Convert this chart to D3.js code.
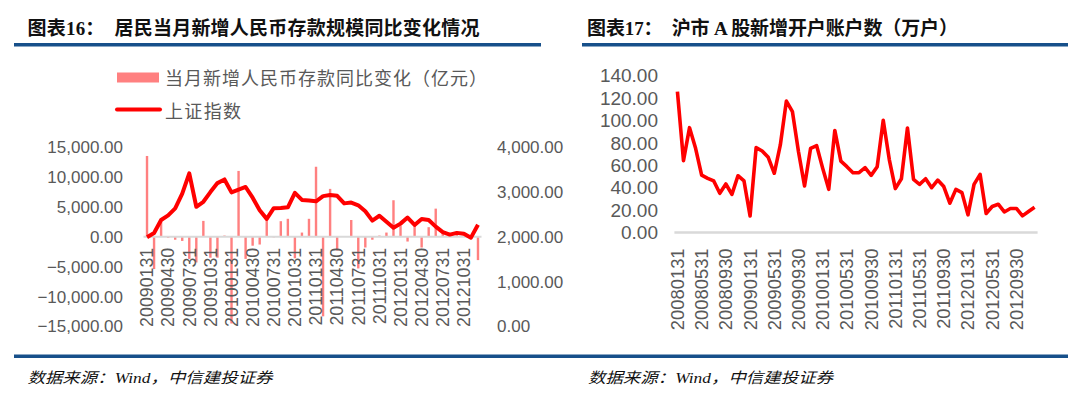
<!DOCTYPE html>
<html><head><meta charset="utf-8">
<script src="https://cdn.jsdelivr.net/npm/d3@7/dist/d3.min.js"></script>
<style>
html,body{margin:0;padding:0;background:#fff;}
svg{display:block;}
.tk text{fill:#595959;font-family:"Liberation Sans",Arial,sans-serif;}
</style></head>
<body>
<svg id="c" width="1080" height="399"></svg>
<script>
// ---------- data ----------
const depositDates = [
"20090131","20090228","20090331","20090430","20090531","20090630","20090731","20090831","20090930","20091031","20091130","20091231",
"20100131","20100228","20100331","20100430","20100531","20100630","20100731","20100831","20100930","20101031","20101130","20101231",
"20110131","20110228","20110331","20110430","20110531","20110630","20110731","20110831","20110930","20111031","20111130","20111231",
"20120131","20120229","20120331","20120430","20120531","20120630","20120731","20120831","20120930","20121031","20121130","20121231"];
const depositTickLabels = ["20090131","20090430","20090731","20091031","20100131","20100430","20100731","20101031",
"20110131","20110430","20110731","20111031","20120131","20120430","20120731","20121031"];
// 当月新增人民币存款同比变化（亿元）
const depositChange = [13500,-5400,2600,-200,-500,-700,-3700,-4300,2650,-3500,-3500,200,
-14500,11000,-3700,-1500,-1300,2700,-100,2600,3000,-3600,700,3000,
11700,-13300,8000,-2300,0,2800,-5300,-1800,-500,200,700,6100,
1900,-800,1900,-1800,1600,4700,500,200,900,200,0,-3900];
// 上证指数
const shIndex = [1990.66,2082.85,2373.21,2477.57,2632.93,2959.36,3412.06,2667.74,2779.43,2995.85,3195.30,3277.14,
2989.29,3051.94,3109.11,2870.61,2592.15,2398.37,2637.50,2638.80,2655.66,2978.84,2820.18,2808.08,
2790.69,2905.05,2928.11,2911.51,2743.47,2762.08,2701.73,2567.34,2359.22,2468.25,2333.41,2199.42,
2292.61,2428.49,2262.79,2396.32,2372.23,2225.43,2103.63,2047.52,2086.17,2068.88,1980.12,2269.13];
const depositTicks = [-15000,-10000,-5000,0,5000,10000,15000];
const indexTicks = [0,1000,2000,3000,4000];

const accountDates = [
"20080131","20080229","20080331","20080430","20080531","20080630","20080731","20080831","20080930","20081031","20081130","20081231",
"20090131","20090228","20090331","20090430","20090531","20090630","20090731","20090831","20090930","20091031","20091130","20091231",
"20100131","20100228","20100331","20100430","20100531","20100630","20100731","20100831","20100930","20101031","20101130","20101231",
"20110131","20110228","20110331","20110430","20110531","20110630","20110731","20110831","20110930","20111031","20111130","20111231",
"20120131","20120229","20120331","20120430","20120531","20120630","20120731","20120831","20120930","20121031","20121130","20121231"];
const accountTickLabels = ["20080131","20080531","20080930","20090131","20090531","20090930","20100131","20100531",
"20100930","20110131","20110531","20110930","20120131","20120531","20120930"];
// 沪市A股新增开户账户数（万户）
const newAccounts = [125.9,64.2,93.7,75.2,51.3,48.4,46.0,35.0,43.3,34.0,50.7,46.0,
14.7,75.8,72.8,67.2,52.9,78.2,117.5,108.0,72.2,41.5,75.2,77.6,
57.3,38.5,91.2,63.8,58.8,53.4,53.4,57.9,51.0,58.8,100.3,65.2,
39.2,48.0,93.4,47.4,43.0,48.0,40.0,46.8,41.0,26.1,38.5,35.6,
15.7,43.0,51.9,16.9,23.2,25.2,18.3,21.4,21.4,14.8,18.7,22.5];
const accountTicks = [0,20,40,60,80,100,120,140];

const titles = ["图表16：  居民当月新增人民币存款规模同比变化情况","图表17：  沪市 A 股新增开户账户数（万户）"];
const legendLabels = ["当月新增人民币存款同比变化（亿元）","上证指数"];
const sourceText = "数据来源：Wind，中信建投证券";

// ---------- drawing ----------
const svg = d3.select("#c");
const BLUE = "#17508A", GRID = "#D9D9D9", RED = "#FF0000", PINK = "#FF8080";
const titleFont = '"Liberation Serif","Noto Sans CJK SC",serif';
const cjk = '"Noto Sans CJK SC",sans-serif';

// titles
svg.append("text").attr("x",27.5).attr("y",35).attr("font-family",titleFont).attr("font-weight","bold")
  .attr("font-size",19).attr("fill","#111").attr("textLength",452).attr("lengthAdjust","spacing")
  .attr("xml:space","preserve").style("white-space","pre").text(titles[0]);
svg.append("text").attr("x",587).attr("y",35).attr("font-family",titleFont).attr("font-weight","bold")
  .attr("font-size",19).attr("fill","#111").attr("textLength",371).attr("lengthAdjust","spacing")
  .style("white-space","pre").text(titles[1]);
// rules
svg.append("rect").attr("x",14).attr("y",43).attr("width",527).attr("height",3.5).attr("fill",BLUE);
svg.append("rect").attr("x",582).attr("y",43).attr("width",486).attr("height",3.5).attr("fill",BLUE);
svg.append("rect").attr("x",14).attr("y",354.5).attr("width",1054).attr("height",3.5).attr("fill",BLUE);
// sources
[27.5,588].forEach(x=>{
  svg.append("text").attr("x",x).attr("y",383).attr("font-family",titleFont).attr("font-style","italic")
    .attr("font-size",15).attr("fill","#111").attr("textLength",245).attr("lengthAdjust","spacingAndGlyphs").text(sourceText);
});

// ---- left chart ----
const x1 = d3.scaleBand().domain(depositDates).range([143.5,481.5]);
const yL = d3.scaleLinear().domain([-15000,15000]).range([326.5,147]);
const yR = d3.scaleLinear().domain([0,4000]).range([326.5,147]);

const gL = svg.append("g").attr("class","tk").attr("transform","translate(123,0)")
  .call(d3.axisLeft(yL).tickValues(depositTicks).tickSize(0).tickPadding(0).tickFormat(d3.format(",.2f")));
gL.select(".domain").remove();
gL.selectAll("text").attr("font-size",17);
const gR = svg.append("g").attr("class","tk").attr("transform","translate(497,0)")
  .call(d3.axisRight(yR).tickValues(indexTicks).tickSize(0).tickPadding(0).tickFormat(d3.format(",.2f")));
gR.select(".domain").remove();
gR.selectAll("text").attr("font-size",17);

// bars
svg.append("g").selectAll("rect").data(depositChange).join("rect")
  .attr("x",(d,i)=>x1(depositDates[i])+x1.bandwidth()/2-1.2)
  .attr("width",2.4)
  .attr("y",d=>Math.min(yL(d),yL(0)))
  .attr("height",d=>Math.abs(yL(d)-yL(0)))
  .attr("fill",PINK);
// baseline
svg.append("line").attr("x1",143.5).attr("x2",481.5).attr("y1",yL(0)).attr("y2",yL(0))
  .attr("stroke",GRID).attr("stroke-width",2);
// x labels
const gx1 = svg.append("g").attr("class","tk").attr("transform",`translate(0,${yL(0)})`)
  .call(d3.axisBottom(x1).tickValues(depositTickLabels).tickSize(0).tickPadding(0));
gx1.select(".domain").remove();
gx1.selectAll("text").attr("font-size",17.8).attr("transform","rotate(-90)")
  .attr("text-anchor","end").attr("x",-11).attr("y",0).attr("dy","0.35em");
// line
svg.append("path").datum(shIndex)
  .attr("d",d3.line().x((d,i)=>x1(depositDates[i])+x1.bandwidth()/2).y(d=>yR(d)))
  .attr("fill","none").attr("stroke",RED).attr("stroke-width",4).attr("stroke-linejoin","round");

// legend
svg.append("rect").attr("x",117).attr("y",72.5).attr("width",42).attr("height",10).attr("fill",PINK);
svg.append("line").attr("x1",117).attr("x2",160).attr("y1",109.5).attr("y2",109.5).attr("stroke",RED)
  .attr("stroke-width",4).attr("stroke-linecap","round");
svg.append("text").attr("x",165).attr("y",84.5).attr("font-family",cjk).attr("font-size",18)
  .attr("fill","#595959").attr("textLength",322).attr("lengthAdjust","spacing").text(legendLabels[0]);
svg.append("text").attr("x",165).attr("y",117.5).attr("font-family",cjk).attr("font-size",18)
  .attr("fill","#595959").attr("textLength",76).attr("lengthAdjust","spacing").text(legendLabels[1]);

// ---- right chart ----
const x2 = d3.scaleBand().domain(accountDates).range([674.4,1037.6]);
const y2 = d3.scaleLinear().domain([0,140]).range([232.4,75.9]);
const gY2 = svg.append("g").attr("class","tk").attr("transform","translate(658,0)")
  .call(d3.axisLeft(y2).tickValues(accountTicks).tickSize(0).tickPadding(0).tickFormat(d3.format(",.2f")));
gY2.select(".domain").remove();
gY2.selectAll("text").attr("font-size",19);
svg.append("line").attr("x1",674.4).attr("x2",1037.6).attr("y1",y2(0)).attr("y2",y2(0))
  .attr("stroke",GRID).attr("stroke-width",2.5);
const gx2 = svg.append("g").attr("class","tk").attr("transform",`translate(0,${y2(0)})`)
  .call(d3.axisBottom(x2).tickValues(accountTickLabels).tickSize(0).tickPadding(0));
gx2.select(".domain").remove();
gx2.selectAll("text").attr("font-size",18.4).attr("transform","rotate(-90)")
  .attr("text-anchor","end").attr("x",-16).attr("y",0).attr("dy","0.35em");
svg.append("path").datum(newAccounts)
  .attr("d",d3.line().x((d,i)=>x2(accountDates[i])+x2.bandwidth()/2).y(d=>y2(d)))
  .attr("fill","none").attr("stroke",RED).attr("stroke-width",3.6).attr("stroke-linejoin","round");
</script>
</body></html>
